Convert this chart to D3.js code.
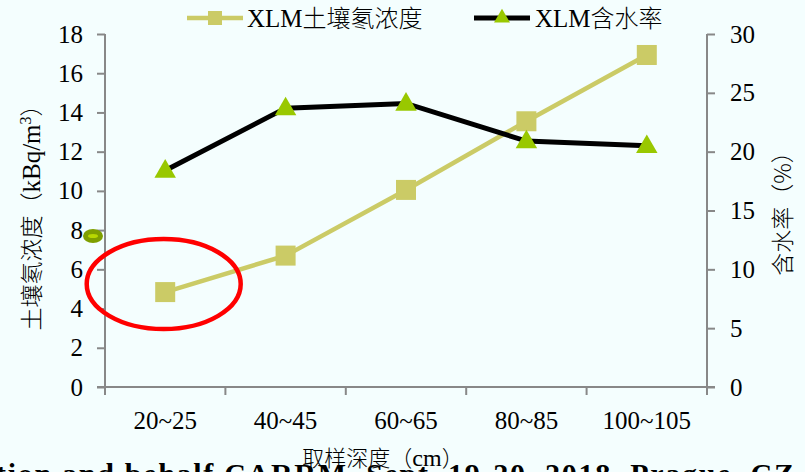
<!DOCTYPE html>
<html>
<head>
<meta charset="utf-8">
<script src="https://cdn.jsdelivr.net/npm/d3@7"></script>
<style>
  html, body { margin: 0; padding: 0; background: #F4FEFE; }
  svg { display: block; }
  svg text { fill: #000; }
  .serif { font-family: "Liberation Serif", Tinos, "Times New Roman", "DejaVu Serif", serif; }
</style>
</head>
<body>
<svg id="chart" width="805" height="472"></svg>
<script>
// Sampling depth categories
const depths = ["20~25", "40~45", "60~65", "80~85", "100~105"];
// Soil radon concentration (kBq/m³), left axis
const radon = [4.84, 6.7, 10.05, 13.55, 16.93];
// Water content (%), right axis
const water = [18.4, 23.7, 24.1, 20.9, 20.5];
const leftTicks = [0, 2, 4, 6, 8, 10, 12, 14, 16, 18];
const rightTicks = [0, 5, 10, 15, 20, 25, 30];

const svg = d3.select("#chart");
const cjk = "\"Noto Sans CJK SC\", \"Noto Sans CJK JP\", sans-serif";

const plot = { left: 105, right: 707, top: 34, bottom: 387 };
const axisColor = "#888888";
const gold = "#CBCB66";
const green = "#99C800";

const x = d3.scaleBand().domain(depths).range([plot.left, plot.right]);
const xc = d => x(d) + x.bandwidth() / 2;
const yL = d3.scaleLinear().domain([0, 18]).range([plot.bottom, plot.top]);
const yR = d3.scaleLinear().domain([0, 30]).range([plot.bottom, plot.top]);

svg.append("rect").attr("width", 805).attr("height", 472).attr("fill", "#F4FEFE");

// Left axis
const gL = svg.append("g").attr("transform", `translate(${plot.left},0)`)
  .call(d3.axisLeft(yL).tickValues(leftTicks).tickSize(8).tickPadding(14).tickFormat(d3.format("d")));
// Right axis
const gR = svg.append("g").attr("transform", `translate(${plot.right},0)`)
  .call(d3.axisRight(yR).tickValues(rightTicks).tickSize(8).tickPadding(15).tickFormat(d3.format("d")));
// Bottom axis: ticks at category boundaries
const gB = svg.append("g").attr("transform", `translate(0,${plot.bottom})`)
  .call(d3.axisBottom(x).tickSize(0).tickPadding(24));
gB.selectAll(".boundary")
  .data(d3.range(depths.length + 1))
  .join("line")
  .attr("class", "boundary")
  .attr("x1", i => plot.left + i * x.bandwidth())
  .attr("x2", i => plot.left + i * x.bandwidth())
  .attr("y1", 0).attr("y2", 8)
  .attr("stroke", axisColor).attr("stroke-width", 2);

[gL, gR, gB].forEach(g => {
  g.attr("font-family", null).attr("font-size", null);
  g.select(".domain").attr("stroke", axisColor).attr("stroke-width", 2);
  g.selectAll(".tick line").attr("stroke", axisColor).attr("stroke-width", 2);
  g.selectAll(".tick text").attr("fill", "#000").attr("class", "serif").style("font-size", "25px");
});
gL.select(".domain").attr("d", `M0,${plot.top}V${plot.bottom}`);
gR.select(".domain").attr("d", `M0,${plot.top}V${plot.bottom}`);
gB.select(".domain").attr("d", `M${plot.left - 8},0H${plot.right + 8}`);

// Radon series
svg.append("path")
  .datum(radon)
  .attr("fill", "none").attr("stroke", gold).attr("stroke-width", 4.5)
  .attr("d", d3.line().x((d, i) => xc(depths[i])).y(d => yL(d)));
svg.selectAll(".sq").data(radon).join("rect")
  .attr("class", "sq")
  .attr("x", (d, i) => xc(depths[i]) - 10).attr("y", d => yL(d) - 10)
  .attr("width", 20).attr("height", 20).attr("fill", gold);

// Water content series
svg.append("path")
  .datum(water)
  .attr("fill", "none").attr("stroke", "#000").attr("stroke-width", 5)
  .attr("d", d3.line().x((d, i) => xc(depths[i])).y(d => yR(d)));
const tri = d3.symbol().type(d3.symbolTriangle).size(200);
svg.selectAll(".tri").data(water).join("path")
  .attr("class", "tri")
  .attr("transform", (d, i) => `translate(${xc(depths[i])},${yR(d) + 1})`)
  .attr("d", tri).attr("fill", green);

// Highlight around the shallowest radon point
svg.append("ellipse")
  .attr("cx", xc(depths[0]) - 1.5).attr("cy", yL(radon[0]) - 8)
  .attr("rx", 77).attr("ry", 45)
  .attr("fill", "none").attr("stroke", "#FF0000").attr("stroke-width", 4.5);

// Small olive marker beside the left axis
svg.append("ellipse").attr("cx", 93).attr("cy", 236).attr("rx", 10).attr("ry", 7).attr("fill", "#7F9F00");
svg.append("ellipse").attr("cx", 93).attr("cy", 236).attr("rx", 5).attr("ry", 2).attr("fill", "#B8D800");

// Axis titles
const leftTitle = svg.append("text")
  .attr("transform", "translate(40,212) rotate(-90)")
  .attr("text-anchor", "middle")
  .style("font-family", cjk).style("font-size", "23px").style("font-weight", 300);
leftTitle.append("tspan").text("土壤氡浓度（");
leftTitle.append("tspan").attr("class", "serif").style("font-size", "25px").text("kBq/m");
leftTitle.append("tspan").attr("class", "serif").attr("dy", -9).style("font-size", "16px").text("3");
leftTitle.append("tspan").attr("dy", 9).text("）");

svg.append("text")
  .attr("transform", "translate(791,208) rotate(-90)")
  .attr("text-anchor", "middle")
  .style("font-family", cjk).style("font-size", "23px").style("font-weight", 300)
  .text("含水率（%）");

const bottomTitle = svg.append("text")
  .attr("x", 383).attr("y", 466)
  .attr("text-anchor", "middle")
  .style("font-family", cjk).style("font-size", "22px").style("font-weight", 300);
bottomTitle.append("tspan").text("取样深度（");
bottomTitle.append("tspan").attr("class", "serif").style("font-size", "24px").text("cm");
bottomTitle.append("tspan").text("）");

// Legend
const legend = svg.append("g");
legend.append("line").attr("x1", 187).attr("x2", 243).attr("y1", 18).attr("y2", 18)
  .attr("stroke", gold).attr("stroke-width", 4.5);
legend.append("rect").attr("x", 208).attr("y", 11).attr("width", 14).attr("height", 14).attr("fill", gold);
const lt1 = legend.append("text").attr("x", 247).attr("y", 27)
  .style("font-family", cjk).style("font-size", "24px").style("font-weight", 300);
lt1.append("tspan").attr("class", "serif").style("font-size", "25px").text("XLM");
lt1.append("tspan").text("土壤氡浓度");

legend.append("line").attr("x1", 474).attr("x2", 530).attr("y1", 18).attr("y2", 18)
  .attr("stroke", "#000").attr("stroke-width", 5);
legend.append("path").attr("transform", "translate(502,18)")
  .attr("d", d3.symbol().type(d3.symbolTriangle).size(110)).attr("fill", green);
const lt2 = legend.append("text").attr("x", 535).attr("y", 27)
  .style("font-family", cjk).style("font-size", "24px").style("font-weight", 300);
lt2.append("tspan").attr("class", "serif").style("font-size", "25px").text("XLM");
lt2.append("tspan").text("含水率");

// Footer line of the slide, cut off by the page edge
svg.append("text")
  .attr("class", "serif")
  .attr("x", -4).attr("y", 484)
  .attr("textLength", 798).attr("lengthAdjust", "spacing")
  .style("font-weight", "bold").style("font-size", "30px")
  .text("tion and behalf  CARRM, Sept. 19-20, 2018, Prague, CZ");
</script>
</body>
</html>
